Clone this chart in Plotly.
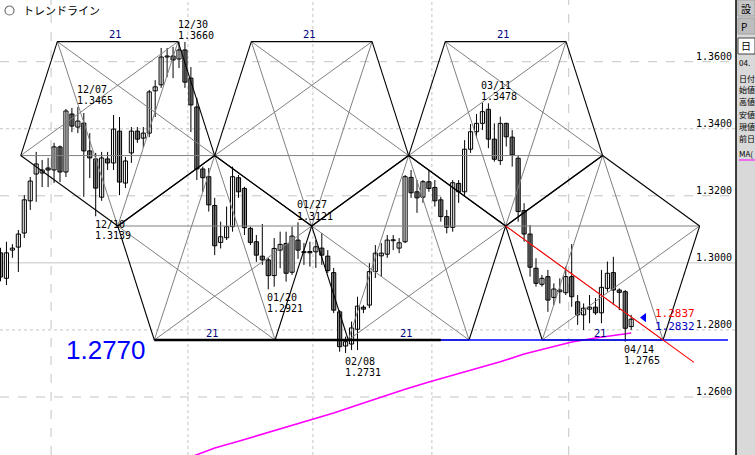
import plotly.graph_objects as go
import pandas as pd

FIG_W, FIG_H = 755, 455
PLOT_RIGHT_PX = 735
BAR_PX = 5.95
FIRST_BAR_PX = 0.5
Y_TOP, Y_BOTTOM = 1.3784, 1.2427

# ---------------- data ----------------
dates = pd.bdate_range("2010-11-18", "2011-04-15")

opens = [1.3030, 1.2954, 1.3038, 1.3047, 1.3089, 1.3185, 1.3265, 1.3268, 1.3283, 1.3277,
         1.3346, 1.3271, 1.3444, 1.3405, 1.3417, 1.3334, 1.3310, 1.3196, 1.3310, 1.3298,
         1.3393, 1.3238, 1.3328, 1.3393, 1.3372, 1.3387, 1.3513, 1.3531, 1.3614, 1.3617,
         1.3608, 1.3635, 1.3551, 1.3465, 1.3280, 1.3257, 1.3171, 1.3061, 1.3075, 1.3108,
         1.3254, 1.3222, 1.3103, 1.3063, 1.3020, 1.3009, 1.2962, 1.3038, 1.3058, 1.2972,
         1.3068, 1.3033, 1.3034, 1.3033, 1.3044, 1.3020, 1.2971, 1.2854, 1.2752, 1.2758,
         1.2802, 1.2868, 1.2874, 1.2974, 1.3021, 1.3026, 1.3067, 1.3044, 1.3063, 1.3255,
         1.3212, 1.3196, 1.3242, 1.3225, 1.3188, 1.3138, 1.3106, 1.3237, 1.3212, 1.3339,
         1.3391, 1.3416, 1.3458, 1.3369, 1.3305, 1.3416, 1.3375, 1.3312, 1.3156, 1.3086,
         1.2984, 1.2936, 1.2959, 1.2897, 1.2914, 1.2911, 1.2959, 1.2884, 1.2845, 1.2862,
         1.2868, 1.2851, 1.2924, 1.2971, 1.2919, 1.2914, 1.2810]
highs = [1.3045, 1.3063, 1.3056, 1.3098, 1.3202, 1.3256, 1.3331, 1.3307, 1.3313, 1.3358,
         1.3350, 1.3459, 1.3462, 1.3465, 1.3447, 1.3387, 1.3328, 1.3331, 1.3331, 1.3441,
         1.3435, 1.3316, 1.3405, 1.3405, 1.3405, 1.3516, 1.3545, 1.3641, 1.3641, 1.3644,
         1.3660, 1.3659, 1.3584, 1.3492, 1.3287, 1.3283, 1.3194, 1.3123, 1.3168, 1.3287,
         1.3262, 1.3227, 1.3108, 1.3083, 1.3116, 1.3015, 1.3074, 1.3093, 1.3093, 1.3108,
         1.3121, 1.3059, 1.3063, 1.3068, 1.3089, 1.3038, 1.2985, 1.2859, 1.2780, 1.2825,
         1.2899, 1.2874, 1.2999, 1.3053, 1.3059, 1.3083, 1.3083, 1.3074, 1.3262, 1.3277,
         1.3247, 1.3247, 1.3277, 1.3247, 1.3197, 1.3158, 1.3247, 1.3247, 1.3366, 1.3414,
         1.3444, 1.3478, 1.3476, 1.3416, 1.3436, 1.3418, 1.3396, 1.3319, 1.3178, 1.3113,
         1.3014, 1.2964, 1.2979, 1.2939, 1.2954, 1.2989, 1.3056, 1.2904, 1.2879, 1.2904,
         1.2895, 1.2979, 1.3004, 1.3018, 1.2924, 1.2919, 1.2845]
lows = [1.2945, 1.2934, 1.3015, 1.2973, 1.3074, 1.3158, 1.3182, 1.3226, 1.3226, 1.3238,
        1.3241, 1.3256, 1.3390, 1.3387, 1.3197, 1.3253, 1.3139, 1.3185, 1.3277, 1.3277,
        1.3202, 1.3223, 1.3298, 1.3358, 1.3343, 1.3375, 1.3435, 1.3522, 1.3554, 1.3551,
        1.3581, 1.3522, 1.3390, 1.3247, 1.3212, 1.3153, 1.3023, 1.3043, 1.3068, 1.3093,
        1.3194, 1.3083, 1.3053, 1.3003, 1.2994, 1.2921, 1.2929, 1.2984, 1.2944, 1.2964,
        1.3012, 1.2994, 1.2989, 1.2985, 1.2994, 1.2970, 1.2850, 1.2735, 1.2731, 1.2740,
        1.2740, 1.2850, 1.2865, 1.2955, 1.2959, 1.3015, 1.3038, 1.3029, 1.3059, 1.3194,
        1.3149, 1.3179, 1.3212, 1.3168, 1.3123, 1.3088, 1.3093, 1.3179, 1.3197, 1.3328,
        1.3372, 1.3396, 1.3342, 1.3302, 1.3292, 1.3347, 1.3287, 1.3123, 1.3063, 1.2959,
        1.2929, 1.2929, 1.2854, 1.2874, 1.2879, 1.2904, 1.2869, 1.2815, 1.2800, 1.2820,
        1.2845, 1.2820, 1.2914, 1.2874, 1.2859, 1.2765, 1.2800]
closes = [1.2958, 1.3030, 1.3044, 1.3086, 1.3188, 1.3244, 1.3295, 1.3277, 1.3277, 1.3346,
          1.3271, 1.3453, 1.3408, 1.3423, 1.3334, 1.3313, 1.3223, 1.3313, 1.3298, 1.3399,
          1.3241, 1.3304, 1.3393, 1.3369, 1.3387, 1.3510, 1.3525, 1.3614, 1.3617, 1.3605,
          1.3635, 1.3539, 1.3471, 1.3280, 1.3254, 1.3173, 1.3051, 1.3078, 1.3108, 1.3257,
          1.3212, 1.3105, 1.3061, 1.3023, 1.3009, 1.2962, 1.3043, 1.3055, 1.2969, 1.3080,
          1.3038, 1.3031, 1.3030, 1.3048, 1.3023, 1.2977, 1.2859, 1.2750, 1.2765, 1.2806,
          1.2871, 1.2862, 1.2974, 1.3029, 1.3029, 1.3068, 1.3068, 1.3060, 1.3257, 1.3209,
          1.3194, 1.3242, 1.3222, 1.3185, 1.3138, 1.3106, 1.3239, 1.3212, 1.3339, 1.3391,
          1.3416, 1.3451, 1.3369, 1.3309, 1.3416, 1.3376, 1.3322, 1.3153, 1.3086, 1.2987,
          1.2939, 1.2954, 1.2889, 1.2922, 1.2919, 1.2959, 1.2899, 1.2845, 1.2865, 1.2868,
          1.2851, 1.2927, 1.2969, 1.2919, 1.2912, 1.2805, 1.2832]

# moving average (read at sampled bars)
ma_index = [32, 36, 40, 44, 48, 52, 56, 60, 64, 68, 72, 76, 80, 84, 88, 92, 96, 100, 104, 106]
ma_values = [1.2421, 1.2448, 1.2468, 1.2489, 1.2510, 1.2531, 1.2552, 1.2576, 1.2600, 1.2623,
             1.2645, 1.2665, 1.2686, 1.2705, 1.2728, 1.2746, 1.2764, 1.2776, 1.2785, 1.2791]

# swing labels
swing_idx = [13, 30, 16, 45, 50, 58, 81, 105]
swing_price = [1.3465, 1.3660, 1.3139, 1.2921, 1.3121, 1.2731, 1.3478, 1.2765]
swing_date = ["12/07", "12/30", "12/10", "01/20", "01/27", "02/08", "03/11", "04/14"]
swing_text = ["1.3465", "1.3660", "1.3139", "1.2921", "1.3121", "1.2731", "1.3478", "1.2765"]
swing_kind = ["H", "H", "L", "L", "H", "L", "H", "L"]

# axis ticks
y_ticks = [1.36, 1.34, 1.32, 1.30, 1.28, 1.26]
y_tick_labels = ["1.3600", "1.3400", "1.3200", "1.3000", "1.2800", "1.2600"]
y_grid_dash = ["dash", "dot", "dash", "solid", "dot", "dash"]
month_grid_dash = ["dash", "dot", "dot", "dot", "dash"]

# trend-drawing parameters
swing_high = 1.3660
swing_low = 1.2770
fib_levels = [0.382, 0.618]
cell_center0 = 19.7
half_top = 10.15
half_mid = 16.3
n_cells = 3
cell_label = "21"
support_level = 1.2770
support_label = "1.2770"
black_seg_end = 74.0
blue_line_end = 122.27
red_line_end = 116.55
trend_value_text = "1.2837"
trend_value = 1.2837
last_price_text = "1.2832"

# side panel texts
panel_buttons = [("設", 8), ("P", 26), ("日", 46)]
panel_rows = [("04.", 63), ("日付", 78), ("始値", 90), ("高値", 102), ("安値", 114),
              ("現値", 126), ("前日", 138), ("MA(", 153)]

# ---------------- helpers ----------------
def px_x(px):
    return px / FIG_W

def px_y(py):
    return 1 - py / FIG_H

n = len(closes)
idx = list(range(n))

fig = go.Figure()

# MA line
fig.add_trace(go.Scatter(x=ma_index, y=ma_values, mode="lines",
                         line=dict(color="#ff00ff", width=1.6), hoverinfo="skip"))

# wicks
wx, wy = [], []
for i in idx:
    wx += [i, i, None]
    wy += [lows[i], highs[i], None]
fig.add_trace(go.Scatter(x=wx, y=wy, mode="lines", line=dict(color="black", width=1),
                         hoverinfo="skip"))

# bodies
MIN_BODY = 0.00028
up_x, up_b, up_h, dn_x, dn_b, dn_h = [], [], [], [], [], []
for i in idx:
    o, c = opens[i], closes[i]
    lo, hi = min(o, c), max(o, c)
    h = hi - lo
    if h < MIN_BODY:
        lo = (lo + hi) / 2 - MIN_BODY / 2
        h = MIN_BODY
    if c >= o:
        up_x.append(i); up_b.append(lo); up_h.append(h)
    else:
        dn_x.append(i); dn_b.append(lo); dn_h.append(h)
fig.add_trace(go.Bar(x=up_x, y=up_h, base=up_b, width=0.7,
                     marker=dict(color="#fbfbfb", line=dict(color="black", width=1)),
                     hoverinfo="skip"))
fig.add_trace(go.Bar(x=dn_x, y=dn_h, base=dn_b, width=0.7,
                     marker=dict(color="#8a8a8a", line=dict(color="black", width=1)),
                     hoverinfo="skip"))

# cells geometry
top = swing_high
bot = swing_low
rng = top - bot
um = top - fib_levels[0] * rng
lm = top - fib_levels[1] * rng
a, b = half_top, half_mid
upper_centers = [cell_center0 + 2 * b * k for k in range(n_cells)]
lower_centers = [c + b for c in upper_centers]

def upper_pent(c):
    return [(c - a, top), (c + a, top), (c + b, um), (c, lm), (c - b, um)]

def lower_pent(c):
    return [(c, um), (c + b, lm), (c + a, bot), (c - a, bot), (c - b, lm)]

pents = [upper_pent(c) for c in upper_centers] + [lower_pent(c) for c in lower_centers]
ex, ey, gx, gy = [], [], [], []
for P in pents:
    for k in range(5):
        p1, p2 = P[k], P[(k + 1) % 5]
        ex += [p1[0], p2[0], None]
        ey += [p1[1], p2[1], None]
    for (i1, i2) in [(0, 2), (0, 3), (1, 3), (1, 4), (2, 4)]:
        gx += [P[i1][0], P[i2][0], None]
        gy += [P[i1][1], P[i2][1], None]
fig.add_trace(go.Scatter(x=gx, y=gy, mode="lines", line=dict(color="#808080", width=1),
                         hoverinfo="skip"))
fig.add_trace(go.Scatter(x=ex, y=ey, mode="lines", line=dict(color="black", width=1.1),
                         hoverinfo="skip"))

# support line (blue) and black segment
seg_start = lower_centers[0] - a
fig.add_trace(go.Scatter(x=[seg_start, blue_line_end], y=[support_level, support_level],
                         mode="lines", line=dict(color="#0000ff", width=1.6), hoverinfo="skip"))
fig.add_trace(go.Scatter(x=[seg_start, black_seg_end], y=[support_level, support_level],
                         mode="lines", line=dict(color="black", width=2.4), hoverinfo="skip"))

# red trend line
r0 = (upper_centers[2], lm)
r1 = (lower_centers[2] + a, bot)
slope = (r1[1] - r0[1]) / (r1[0] - r0[0])
fig.add_trace(go.Scatter(x=[r0[0], red_line_end],
                         y=[r0[1], r0[1] + slope * (red_line_end - r0[0])],
                         mode="lines", line=dict(color="#ff0000", width=1.1), hoverinfo="skip"))

# marker triangle
fig.add_trace(go.Scatter(x=[108.15], y=[trend_value], mode="markers",
                         marker=dict(symbol="triangle-left", size=8, color="#0000ff"),
                         hoverinfo="skip"))

shapes = []
# horizontal grid
for yv, d in zip(y_ticks, y_grid_dash):
    shapes.append(dict(type="line", xref="paper", yref="y", x0=0, x1=px_x(PLOT_RIGHT_PX),
                       y0=yv, y1=yv, layer="below",
                       line=dict(color="#c4c4c4", width=1, dash=d)))
# vertical month grid
month_starts = [i for i in range(1, n) if dates[i].month != dates[i - 1].month]
for i, d in zip(month_starts, month_grid_dash):
    shapes.append(dict(type="line", xref="x", yref="paper", x0=i - 0.5, x1=i - 0.5,
                       y0=0, y1=1, layer="below",
                       line=dict(color="#c4c4c4", width=1, dash=d)))
# right panel
shapes.append(dict(type="rect", xref="paper", yref="paper", x0=px_x(736), x1=1.0,
                   y0=0, y1=1, fillcolor="#d9d9d9", line=dict(width=0), layer="above"))
shapes.append(dict(type="line", xref="paper", yref="paper", x0=px_x(736), x1=px_x(736),
                   y0=0, y1=1, line=dict(color="black", width=1.5)))
shapes.append(dict(type="rect", xref="paper", yref="paper", x0=px_x(738), x1=1.0,
                   y0=px_y(16), y1=px_y(0), fillcolor="#c8c8c8", line=dict(color="#a0a0a0", width=1)))
shapes.append(dict(type="rect", xref="paper", yref="paper", x0=px_x(738), x1=1.0,
                   y0=px_y(34), y1=px_y(18), fillcolor="#bdbdbd", line=dict(color="#a0a0a0", width=1)))
shapes.append(dict(type="rect", xref="paper", yref="paper", x0=px_x(738), x1=1.0,
                   y0=px_y(54), y1=px_y(38), fillcolor="#ffffff", line=dict(color="#404040", width=1)))
shapes.append(dict(type="line", xref="paper", yref="paper", x0=px_x(739), x1=1.0,
                   y0=px_y(160), y1=px_y(160), line=dict(color="#ff00ff", width=1)))
# radio icon
shapes.append(dict(type="circle", xref="paper", yref="paper", x0=px_x(5), x1=px_x(14),
                   y0=px_y(15), y1=px_y(6), line=dict(color="#707070", width=1.2),
                   fillcolor="#ffffff"))

mono = "DejaVu Sans Mono"
annotations = []
# title
annotations.append(dict(xref="paper", yref="paper", x=px_x(21), y=px_y(10), text="トレンドライン",
                        showarrow=False, xanchor="left", yanchor="middle",
                        font=dict(family="Noto Sans CJK JP", size=11, color="black")))
# y tick labels
for yv, t in zip(y_ticks, y_tick_labels):
    annotations.append(dict(xref="paper", yref="y", x=px_x(734), y=yv, text=t, showarrow=False,
                            xanchor="right", yanchor="middle", yshift=5,
                            font=dict(family=mono, size=10, color="black")))
# swing labels
for i, p, dtxt, ptxt, k in zip(swing_idx, swing_price, swing_date, swing_text, swing_kind):
    s1, s2 = (17.5, 6) if k == "H" else (-8, -19)
    for txt, s in [(dtxt, s1), (ptxt, s2)]:
        annotations.append(dict(xref="x", yref="y", x=i, y=p, text=txt, showarrow=False,
                                xanchor="left", yanchor="middle", xshift=-3, yshift=s,
                                font=dict(family=mono, size=10, color="black")))
# cell labels
for c in upper_centers:
    annotations.append(dict(xref="x", yref="y", x=c, y=top, text=cell_label, showarrow=False,
                            xanchor="center", yanchor="middle", yshift=7, xshift=-2,
                            font=dict(family="DejaVu Sans", size=10, color="#000080")))
for c in lower_centers:
    annotations.append(dict(xref="x", yref="y", x=c, y=bot, text=cell_label, showarrow=False,
                            xanchor="center", yanchor="middle", yshift=6.5, xshift=-2,
                            font=dict(family="DejaVu Sans", size=10, color="#000080")))
# price tags
annotations.append(dict(xref="paper", yref="paper", x=px_x(653), y=px_y(313), text=trend_value_text,
                        showarrow=False, xanchor="left", yanchor="middle",
                        font=dict(family=mono, size=11, color="#ff0000")))
annotations.append(dict(xref="paper", yref="paper", x=px_x(653), y=px_y(326), text=last_price_text,
                        showarrow=False, xanchor="left", yanchor="middle",
                        font=dict(family=mono, size=11, color="#0000c0")))
# handwritten level
annotations.append(dict(xref="paper", yref="paper", x=px_x(64), y=px_y(350), text=support_label,
                        showarrow=False, xanchor="left", yanchor="middle",
                        font=dict(family="Liberation Sans", size=26, color="#0000ff")))
# right panel texts
for t, yy in panel_buttons:
    annotations.append(dict(xref="paper", yref="paper", x=px_x(739), y=px_y(yy), text=t,
                            showarrow=False, xanchor="left", yanchor="middle",
                            font=dict(family="Noto Sans CJK JP", size=10, color="black")))
for t, yy in panel_rows:
    annotations.append(dict(xref="paper", yref="paper", x=px_x(737.5), y=px_y(yy), text=t,
                            showarrow=False, xanchor="left", yanchor="middle", borderpad=0,
                            font=dict(family="Noto Sans CJK JP", size=8, color="black")))

x_lo = -FIRST_BAR_PX / BAR_PX
x_hi = (PLOT_RIGHT_PX - FIRST_BAR_PX) / BAR_PX

fig.update_layout(
    width=FIG_W, height=FIG_H,
    margin=dict(l=0, r=0, t=0, b=0, pad=0),
    paper_bgcolor="white", plot_bgcolor="white",
    showlegend=False, barmode="overlay",
    xaxis=dict(domain=[0, px_x(PLOT_RIGHT_PX)], range=[x_lo, x_hi], showgrid=False,
               zeroline=False, showticklabels=False, showline=False, ticks=""),
    yaxis=dict(range=[Y_BOTTOM, Y_TOP], showgrid=False, zeroline=False,
               showticklabels=False, showline=False, ticks=""),
    shapes=shapes, annotations=annotations,
)

fig.write_html("out.html", config={"displayModeBar": False},
               post_script="document.body.style.margin='0';document.body.style.overflow='hidden';")
